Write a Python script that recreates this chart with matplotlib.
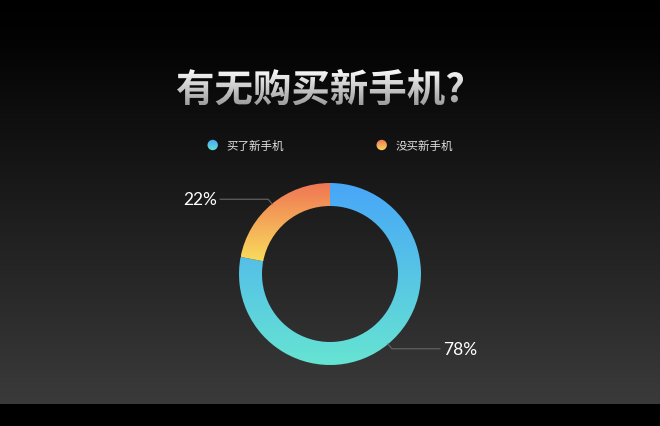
import numpy as np
import matplotlib
matplotlib.use("Agg")
import matplotlib.pyplot as plt
from matplotlib.colors import LinearSegmentedColormap
from matplotlib.patches import Circle, PathPatch
from matplotlib.textpath import TextPath
from matplotlib.font_manager import FontProperties
from matplotlib.transforms import Affine2D

plt.rcParams["font.family"] = ["Noto Sans CJK SC", "DejaVu Sans"]

# ── Data ────────────────────────────────────────────────────────────────────
TITLE = "有无购买新手机?"
categories = ["买了新手机", "没买新手机"]
values = [78, 22]
pct_labels = [f"{v}%" for v in values]

# gradient colours per category (top -> bottom)
grad_top = ["#48a6f8", "#f07454"]
grad_bottom = ["#66e4d2", "#f9dc5c"]

# ── Canvas: one axes in pixel units ────────────────────────────────────────
W, H = 660, 427
fig = plt.figure(figsize=(W / 100, H / 100), dpi=100, facecolor="black")
ax = fig.add_axes([0, 0, 1, 1])


def vgrad(extent, stops, zorder=1):
    """Vertical gradient image; stops are (pos, colour), pos 0 = bottom."""
    cmap = LinearSegmentedColormap.from_list("g", stops)
    img = np.linspace(0, 1, 256).reshape(-1, 1)
    return ax.imshow(img, cmap=cmap, extent=extent, origin="lower",
                     aspect="auto", interpolation="bicubic", zorder=zorder)


# background: black at top fading to dark grey, black strip at the bottom
vgrad((0, W, 22, H), [(0.0, "#3a3a3a"), (0.9, "#030303"), (1.0, "#000000")], zorder=0)

# ── Donut ──────────────────────────────────────────────────────────────────
cx, cy, R, ring = 330, 152, 91, 23
wedges, _ = ax.pie(values, startangle=90, counterclock=False, radius=R,
                   center=(cx, cy), wedgeprops=dict(width=ring, linewidth=0))

for i, w in enumerate(wedges):
    e = w.get_path().get_extents()
    im = vgrad((e.x0, e.x1, e.y0, e.y1), [(0, grad_bottom[i]), (1, grad_top[i])], zorder=2)
    im.set_clip_path(w)
    w.set_facecolor("none")

    # leader line + percentage label
    mid = np.deg2rad((w.theta1 + w.theta2) / 2)
    dx, dy = np.cos(mid), np.sin(mid)
    side = 1 if dx > 0 else -1
    p0 = (cx + R * dx, cy + R * dy)
    p1 = (cx + (R + 6) * dx, cy + (R + 6) * dy)
    p2 = (p1[0] + side * 48, p1[1])
    ax.plot([p0[0], p1[0], p2[0]], [p0[1], p1[1], p2[1]],
            color="#606060", lw=0.9, zorder=3)
    ax.text(p2[0] + side * 3, p2[1], pct_labels[i], color="white",
            fontsize=12.5, family=["Lato", "DejaVu Sans"],
            ha="left" if side > 0 else "right", va="center", zorder=5)

# ── Legend ─────────────────────────────────────────────────────────────────
leg_x = [212.7, 381.7]
leg_y = 281
for i, name in enumerate(categories):
    c = Circle((leg_x[i], leg_y), 5.2, facecolor="none", edgecolor="none")
    ax.add_patch(c)
    im = vgrad((leg_x[i] - 6, leg_x[i] + 6, leg_y - 6, leg_y + 6),
               [(0, grad_bottom[i]), (1, grad_top[i])], zorder=3)
    im.set_clip_path(c)
    ax.text(leg_x[i] + 13.5, leg_y, name, color="#e0e0e0", fontsize=8.3,
            ha="left", va="center", zorder=5)

# ── Title with white-to-grey gradient ──────────────────────────────────────
fp = FontProperties(family="Noto Sans CJK SC", weight="bold")
tp = TextPath((0, 0), TITLE, size=1, prop=fp)
te = tp.get_extents()
s = 286 / te.width
tr = Affine2D().scale(s).translate(177 - te.x0 * s, 357 - te.y1 * s)
tpath = tr.transform_path(tp)
tpatch = PathPatch(tpath, facecolor="none", edgecolor="none")
ax.add_patch(tpatch)
e = tpath.get_extents()
im = vgrad((e.x0, e.x1, e.y0, e.y1), [(0, "#9c9c9c"), (1, "#ffffff")], zorder=4)
im.set_clip_path(tpatch)

ax.set_xlim(0, W)
ax.set_ylim(0, H)
ax.set_aspect("auto")
ax.axis("off")

fig.savefig("out.png", dpi=100, facecolor="black")
